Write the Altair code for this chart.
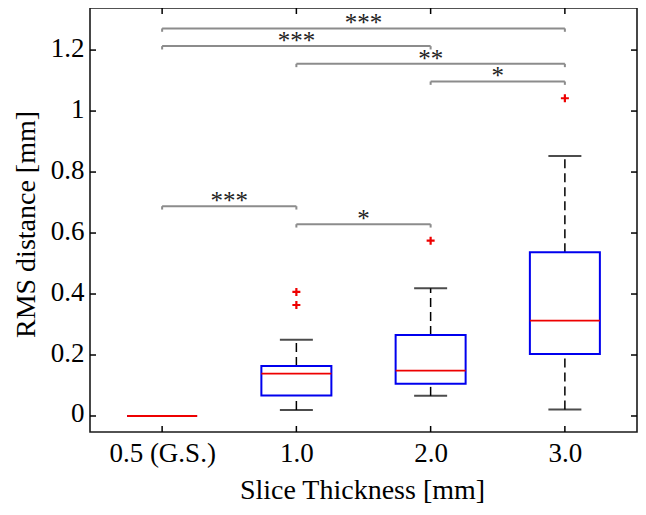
import altair as alt
import pandas as pd

# ---- data ----
cats = ["0.5 (G.S.)", "1.0", "2.0", "3.0"]
pos = [0, 1, 2, 3]
q1 = [0.0, 0.067, 0.106, 0.203]
med = [0.0, 0.139, 0.149, 0.313]
q3 = [0.0, 0.164, 0.266, 0.537]
lo = [0.0, 0.020, 0.066, 0.021]
hi = [0.0, 0.250, 0.419, 0.853]

out_pos = [1, 1, 2, 3]
out_val = [0.407, 0.364, 0.575, 1.042]

br_start = [0, 0, 1, 2, 0, 1]
br_end = [3, 2, 3, 3, 1, 2]
br_level = [1.271, 1.213, 1.155, 1.097, 0.688, 0.629]
br_label = ["***", "***", "**", "*", "***", "*"]

y_ticks = [0, 0.2, 0.4, 0.6, 0.8, 1.0, 1.2]

W, H = 547, 424
FONT = "Liberation Serif"

box_df = pd.DataFrame(dict(pos=pos, cat=cats, q1=q1, med=med, q3=q3, lo=lo, hi=hi))
out_df = pd.DataFrame(dict(pos=out_pos, val=out_val))
br_df = pd.DataFrame(dict(x1=br_start, x2=br_end, lev=br_level, lab=br_label))
br_df["mid"] = (br_df["x1"] + br_df["x2"]) / 2
br_df["tip"] = br_df["lev"] - 0.011
yt_df = pd.DataFrame(dict(v=y_ticks))
xt_df = pd.DataFrame(dict(pos=pos))

xs = alt.Scale(domain=[-0.5, 3.5], nice=False, zero=False)
ys = alt.Scale(domain=[-0.0525, 1.338], nice=False, zero=False)

label_expr = "[" + ",".join("'%s'" % c for c in cats) + "][datum.value]"

x_axis = alt.Axis(
    values=pos, labelExpr=label_expr, tickSize=0, domain=False, grid=False,
    labelFont=FONT, labelFontSize=27, labelColor="black", labelPadding=29,
    labelBaseline="alphabetic", title="Slice Thickness [mm]", titleFont=FONT,
    titleFontSize=28, titleFontWeight="normal", titleColor="black",
    titleY=66, titleBaseline="alphabetic", titleX=272,
)
y_axis = alt.Axis(
    values=y_ticks, format=".1~f", tickSize=0, domain=False, grid=False,
    labelFont=FONT, labelFontSize=27, labelColor="black", labelPadding=6,
    labelOffset=-2,
    title="RMS distance [mm]", titleFont=FONT, titleFontSize=28,
    titleFontWeight="normal", titleColor="black", titleAngle=270,
    titleX=-56, titleY=216, titleBaseline="alphabetic",
)


def X(f):
    return alt.X(f, type="quantitative", scale=xs, axis=x_axis, title="Slice Thickness [mm]")


def Y(f):
    return alt.Y(f, type="quantitative", scale=ys, axis=y_axis, title="RMS distance [mm]")


base = alt.Chart(box_df)

whisk_up = base.mark_rule(color="black", strokeWidth=1.5, strokeDash=[9, 5]).encode(
    x=X("pos"), y=Y("q3"), y2="hi:Q",
)
whisk_lo = base.mark_rule(color="black", strokeWidth=1.5, strokeDash=[9, 5]).encode(
    x=X("pos"), y=Y("lo"), y2="q1:Q",
)
cap_hi = base.mark_tick(color="black", size=33, thickness=2, orient="horizontal").encode(
    x=X("pos"), y=Y("hi"),
)
cap_lo = base.mark_tick(color="black", size=33, thickness=2, orient="horizontal").encode(
    x=X("pos"), y=Y("lo"),
)
box = base.mark_bar(size=70, fill="white", fillOpacity=0, stroke="#0000ee", strokeWidth=2).encode(
    x=X("pos"), y=Y("q1"), y2="q3:Q",
)
median = base.mark_tick(color="#ee0000", size=70, thickness=1.8, orient="horizontal", opacity=1).encode(
    x=X("pos"), y=Y("med"),
)
outl = alt.Chart(out_df).mark_point(
    shape="M-1,0H1M0,-1V1", size=64, strokeWidth=2.2, color="#ee0000", filled=False, opacity=1
).encode(
    x=X("pos"), y=Y("val"),
)

bchart = alt.Chart(br_df)
br_line = bchart.mark_rule(color="#8c8c8c", strokeWidth=2).encode(
    x=X("x1"), x2="x2:Q", y=Y("lev"),
)
br_l = bchart.mark_rule(color="#8c8c8c", strokeWidth=2).encode(
    x=X("x1"), y=Y("tip"), y2="lev:Q",
)
br_r = bchart.mark_rule(color="#8c8c8c", strokeWidth=2).encode(
    x=X("x2"), y=Y("tip"), y2="lev:Q",
)
br_txt = bchart.mark_text(font=FONT, fontSize=25, baseline="alphabetic", dy=3, color="#222222").encode(
    x=X("mid"), y=Y("lev"), text="lab:N",
)

# inward ticks (MATLAB style)
yt_left = alt.Chart(yt_df).mark_rule(color="black", strokeWidth=1.5).encode(
    y=Y("v"), x=alt.value(0), x2=alt.value(6),
)
yt_right = alt.Chart(yt_df).mark_rule(color="black", strokeWidth=1.5).encode(
    y=Y("v"), x=alt.value(W - 6), x2=alt.value(W),
)
xt_bot = alt.Chart(xt_df).mark_rule(color="black", strokeWidth=1.5).encode(
    x=X("pos"), y=alt.value(H), y2=alt.value(H - 6),
)
xt_top = alt.Chart(xt_df).mark_rule(color="black", strokeWidth=1.5).encode(
    x=X("pos"), y=alt.value(0), y2=alt.value(6),
)

chart = alt.layer(
    br_line, br_l, br_r, br_txt,
    whisk_up, whisk_lo, cap_hi, cap_lo, box, median, outl,
    yt_left, yt_right, xt_bot, xt_top,
).properties(
    width=W, height=H,
    autosize=alt.AutoSizeParams(type="none"),
    padding={"left": 82, "right": 1, "top": 0, "bottom": 74},
    background="white",
).configure_view(
    stroke="#1a1a1a", strokeWidth=1.6
)

chart.save("out.html", embed_options={"renderer": "svg", "actions": False})
